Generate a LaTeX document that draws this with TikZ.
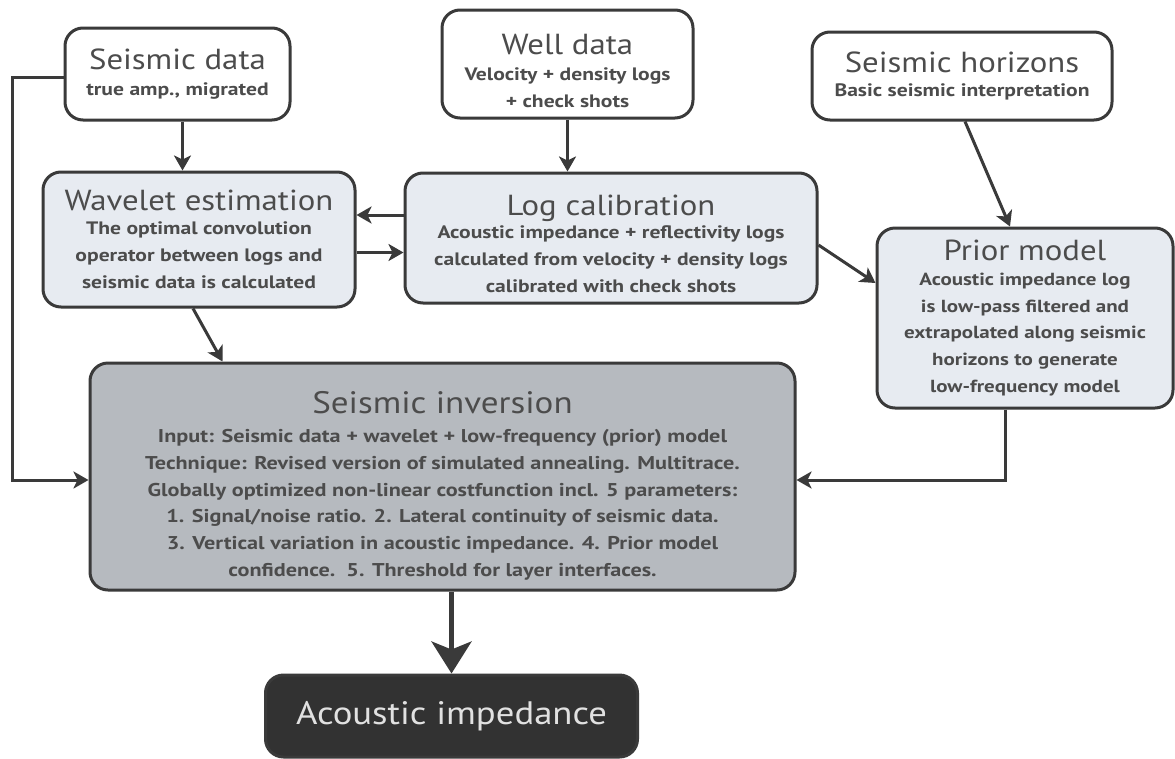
\documentclass[tikz,border=0pt]{standalone}
\usepackage{fontspec}
\setmainfont{PT Sans}
\newfontfamily\titlefam{PT Sans}[FakeStretch=1.13]
\newfontfamily\subfam{PT Sans}[FakeStretch=1.2]
\usetikzlibrary{arrows.meta,calc}
\definecolor{edge}{RGB}{58,58,58}
\definecolor{txt}{RGB}{76,76,76}
\definecolor{lightfill}{RGB}{231,235,241}
\definecolor{midfill}{RGB}{182,186,191}
\definecolor{darkfill}{RGB}{50,50,50}
\definecolor{lighttxt}{RGB}{225,225,225}
\newcommand{\boxtitle}[1]{{\titlefam\fontsize{29}{34}\selectfont\mdseries #1}}
\tikzset{
  box/.style={draw=edge, line width=3pt, rounded corners=18pt, align=center,
    text=txt, inner sep=0pt, font=\subfam\fontsize{18}{26.8}\selectfont\bfseries},
  topbox/.style={box, fill=white},
  lightbox/.style={box, fill=lightfill},
  arr/.style={draw=edge, line width=3pt, -{Stealth[length=15pt,width=17pt,inset=4pt]}},
  bigarr/.style={draw=edge, line width=4.5pt, -{Stealth[length=32pt,width=40pt,inset=8pt]}}
}
\begin{document}
\begin{tikzpicture}[x=1pt,y=-1pt]
\useasboundingbox (0,0) rectangle (1175,758);
\fill[white] (0,0) rectangle (1175,758);

\node[topbox, minimum width=225pt, minimum height=92pt] (sd) at (177.5,74)
  {\boxtitle{Seismic data}\\[0pt] true amp., migrated};
\node[topbox, minimum width=251pt, minimum height=108pt] (wd) at (567.5,64)
  {\rule{0pt}{34pt}\boxtitle{Well data}\\[-1pt] Velocity + density logs\\ + check shots};
\node[topbox, minimum width=300pt, minimum height=88pt] (sh) at (962,76)
  {\boxtitle{Seismic horizons}\\[-2pt] Basic seismic interpretation};

\node[lightbox, minimum width=312pt, minimum height=135pt] (we) at (199,239.5)
  {\boxtitle{Wavelet estimation}\\[-3pt] The optimal convolution\\ operator between logs and\\ seismic data is calculated};
\node[lightbox, minimum width=412pt, minimum height=130pt] (lc) at (611,238)
  {\rule{0pt}{32pt}\boxtitle{Log calibration}\\[-3pt] Acoustic impedance + reflectivity logs\\ calculated from velocity + density logs\\ calibrated with check shots};
\node[lightbox, minimum width=296pt, minimum height=180pt,
  font=\subfam\fontsize{17.5}{26.8}\selectfont\bfseries] (pm) at (1025,318)
  {\boxtitle{Prior model}\\[-2pt] Acoustic impedance log\\ is low-pass filtered and\\ extrapolated along seismic\\ horizons to generate\\ low-frequency model};

\node[box, fill=midfill, minimum width=705pt, minimum height=227pt,
  font=\subfam\fontsize{18.5}{26.7}\selectfont\bfseries] (si) at (442.5,476.5)
  {\rule{0pt}{40pt}{\titlefam\fontsize{31}{34}\selectfont\mdseries Seismic inversion}\\[3pt]
   Input: Seismic data + wavelet + low-frequency (prior) model\\
   Technique: Revised version of simulated annealing. Multitrace.\\
   Globally optimized non-linear costfunction incl. 5 parameters:\\
   1. Signal/noise ratio. 2. Lateral continuity of seismic data.\\
   3. Vertical variation in acoustic impedance. 4. Prior model\\
   confidence.\ \ 5. Threshold for layer interfaces.};

\node[box, fill=darkfill, text=lighttxt, minimum width=372pt, minimum height=82pt,
  font=\titlefam\fontsize{32.5}{36}\selectfont\mdseries] (ai) at (451.5,716) {Acoustic impedance};

\coordinate (lx) at (12,480);

\draw[arr] ([xshift=5pt]sd.south) -- ([xshift=5pt]sd.south |- we.north);
\draw[arr] (wd.south) -- (wd.south |- lc.north);
\draw[arr] ([xshift=3pt]sh.south) -- ([xshift=-15pt]pm.north);
\draw[arr] ([yshift=23pt]lc.west) -- ([yshift=23pt]lc.west -| we.east);
\draw[arr] ([yshift=-13pt]we.east) -- ([yshift=-13pt]we.east -| lc.west);
\draw[arr] ([yshift=-7pt]lc.east) -- ([yshift=35pt]pm.west);
\draw[arr] ([xshift=-6pt]we.south) -- ([xshift=-220pt]si.north);
\draw[arr] ([yshift=-3pt]sd.west) -- ([yshift=-3pt]sd.west -| lx) |- ([yshift=-3.5pt]si.west);
\draw[arr] ([xshift=-20pt]pm.south) |- ([yshift=-3.5pt]si.east);
\draw[bigarr] (si.south -| ai.north) -- (ai.north);
\end{tikzpicture}
\end{document}
